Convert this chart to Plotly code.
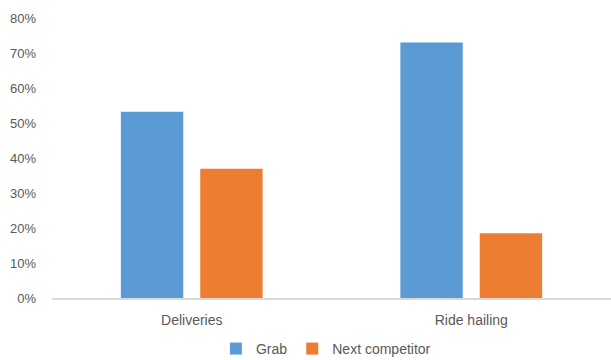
import plotly.graph_objects as go

categories = ["Deliveries", "Ride hailing"]
grab = [0.532, 0.730]
next_competitor = [0.369, 0.185]
tick_vals = [0, 0.1, 0.2, 0.3, 0.4, 0.5, 0.6, 0.7, 0.8]
tick_text = ["0%", "10%", "20%", "30%", "40%", "50%", "60%", "70%", "80%"]

font_fam = "Liberation Sans, Arial, sans-serif"
fig = go.Figure()
fig.add_trace(go.Bar(x=categories, y=grab, name="Grab", marker_color="#5B9BD5",
                     marker_line_width=0))
fig.add_trace(go.Bar(x=categories, y=next_competitor, name="Next competitor",
                     marker_color="#ED7D31", marker_line_width=0))

fig.update_layout(
    width=611, height=360,
    margin=dict(l=52, r=0, t=18, b=62, autoexpand=False),
    paper_bgcolor="white", plot_bgcolor="white",
    barmode="group", bargap=0.432, bargroupgap=0.214,
    font=dict(family=font_fam, size=13, color="#595959"),
    showlegend=True,
    legend=dict(orientation="h", x=0.49, xanchor="center", y=-0.182, yanchor="middle",
                font=dict(size=14, color="#595959"), itemwidth=30,
                traceorder="normal"),
)
fig.update_yaxes(range=[0, 0.8], tickvals=tick_vals, ticktext=tick_text,
                 showgrid=False, zeroline=False, showline=False, ticks="",
                 ticklabelstandoff=15, automargin=False, tickfont=dict(size=13))
fig.update_xaxes(showline=True, linecolor="#D9D9D9", linewidth=1.5, ticks="",
                 showgrid=False, ticklabelstandoff=8, automargin=False,
                 tickfont=dict(size=14))

fig.write_html("out.html")
